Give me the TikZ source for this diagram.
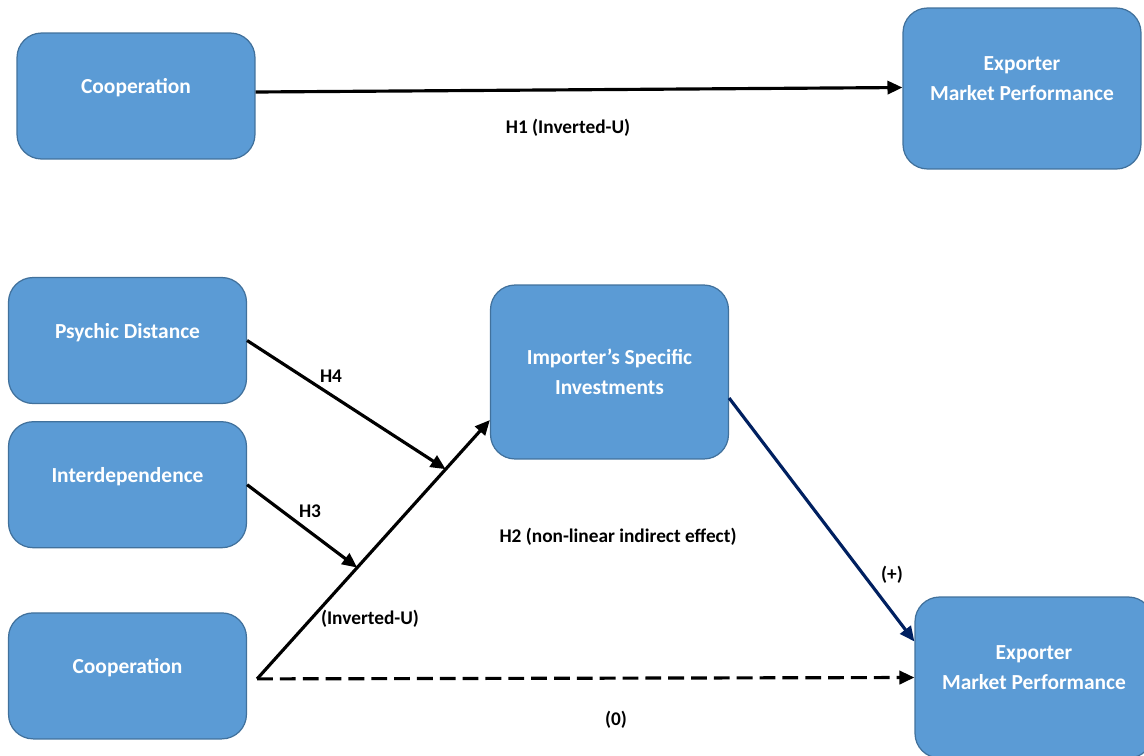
\documentclass[tikz,border=0pt]{standalone}
\usepackage{fontspec}
\setmainfont{Carlito}
\usetikzlibrary{positioning,arrows.meta,calc}
\definecolor{cbox}{RGB}{91,155,213}
\definecolor{cedge}{RGB}{65,113,156}
\definecolor{cnavy}{RGB}{0,32,96}

\begin{document}
\begin{tikzpicture}[
  x=0.02cm, y=-0.02cm,
  font=\bfseries,
  >={Triangle[length=8.5pt, width=7.5pt]},
  box/.style={rectangle, draw=cedge, line width=0.7pt, fill=cbox,
              rounded corners=14pt, minimum width=4.76cm, minimum height=2.52cm,
              align=center, text=white, inner sep=2pt,
              font=\bfseries\fontsize{12.2}{17}\selectfont},
  factor/.style={box, text depth=11pt},
  lab/.style={font=\bfseries\fontsize{11}{13}\selectfont, inner sep=1pt},
  arr/.style={->, line width=1.8pt},
  dasharr/.style={arr, dash pattern=on 9pt off 4pt},
  navyarr/.style={arr, color=cnavy}
]
\useasboundingbox (0,0) rectangle (1144,755);

% ---------- direct model ----------
\node[factor] (coop1) at (136,96) {Cooperation};
\node[factor, minimum height=3.22cm] (perf1) at (1022,88.5) {Exporter\\Market Performance};
\draw[arr] ($(coop1.east)+(0,-4)$) -- ($(perf1.west)+(0,-1)$);
\node[lab] (h1) at (568,128) {H1 (Inverted-U)};

% ---------- mediation model ----------
\node[factor] (psych) at (127.5,340.5) {Psychic Distance};
\node[factor, below=0.34cm of psych] (inter) {Interdependence};
\node[factor, below=1.28cm of inter] (coop2) {Cooperation};

\node[box, minimum height=3.48cm] (imp) at (609.5,372) {Importer’s Specific\\Investments};
\node[factor, minimum height=3.22cm] (perf2) at (1034,677.5) {Exporter\\Market Performance};

\coordinate (c2out) at ($(coop2.east)+(10,3)$);
\coordinate (impin) at ($(imp.west)+(0,48)$);
\coordinate (impout) at ($(imp.east)+(0,26)$);
\coordinate (perf2in) at ($(perf2.west)+(0,-36)$);
\path (c2out) -- (impin) coordinate[pos=0.43] (m3) coordinate[pos=0.81] (m4);

\draw[arr] (c2out) -- (impin);
\draw[arr] (psych.east) -- (m4);
\draw[arr] (inter.east) -- (m3);
\draw[navyarr] (impout) -- (perf2in);
\draw[dasharr] (c2out) -- (perf2.west);

% labels
\node[lab] (h4) at (331,376) {H4};
\node[lab] (h3) at (310,511) {H3};
\node[lab] (invu) at (370,619) {(Inverted-U)};
\node[lab] (h2) at (618,537) {H2 (non-linear indirect effect)};
\node[lab] (plus) at (892,575) {(+)};
\node[lab] (zero) at (616,720) {(0)};

\end{tikzpicture}
\end{document}
